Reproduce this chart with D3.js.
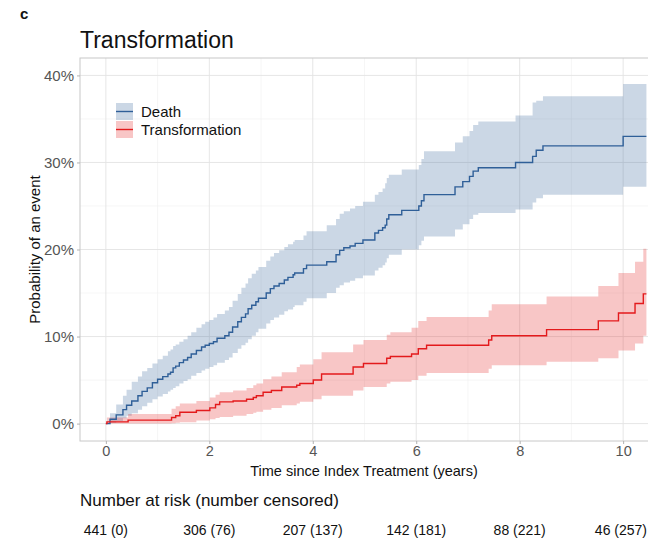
<!DOCTYPE html>
<html>
<head>
<meta charset="utf-8">
<script src="https://cdn.jsdelivr.net/npm/d3@7"></script>
<style>
  html, body { margin: 0; padding: 0; background: #ffffff; }
  svg { display: block; font-family: "Liberation Sans", Arial, Helvetica, sans-serif; }
</style>
</head>
<body>
<svg id="chart" width="648" height="541"></svg>
<script>
// Cumulative incidence (%) with 95% CI, step times in years
const deathTime = [0, 0.08, 0.2, 0.33, 0.4, 0.5, 0.62, 0.7, 0.8, 0.9, 1.0, 1.1, 1.2, 1.25, 1.3, 1.35, 1.42, 1.5, 1.58, 1.65, 1.75, 1.85, 1.92, 2.0, 2.08, 2.15, 2.3, 2.38, 2.45, 2.55, 2.62, 2.7, 2.75, 2.82, 2.9, 2.95, 3.1, 3.18, 3.25, 3.35, 3.45, 3.52, 3.62, 3.65, 3.82, 3.88, 4.27, 4.45, 4.52, 4.6, 4.72, 4.82, 4.97, 5.2, 5.27, 5.35, 5.4, 5.43, 5.47, 5.72, 6.05, 6.1, 6.15, 6.75, 6.9, 7.03, 7.1, 7.2, 7.92, 8.25, 8.32, 8.45, 10.0, 10.45];
const deathEst  = [0, 0.5, 1.0, 1.6, 2.1, 2.6, 3.2, 3.7, 4.1, 4.7, 5.1, 5.4, 5.7, 5.9, 6.4, 6.6, 7.0, 7.3, 7.6, 8.0, 8.4, 8.8, 9.0, 9.2, 9.4, 9.8, 10.1, 10.5, 11.1, 11.7, 12.2, 12.6, 13.2, 13.6, 14.0, 14.4, 15.0, 15.5, 15.8, 16.1, 16.5, 16.8, 17.1, 17.3, 17.8, 18.2, 18.6, 19.4, 19.9, 20.2, 20.4, 20.7, 21.1, 21.9, 22.2, 22.5, 22.8, 23.5, 24.0, 24.5, 25.0, 25.6, 26.3, 27.2, 27.8, 28.4, 29.0, 29.4, 30.0, 30.7, 31.4, 31.9, 33.0, 33.0];
const deathLow  = [0, 0.1, 0.3, 0.6, 0.9, 1.2, 1.6, 2.0, 2.4, 2.8, 3.1, 3.4, 3.7, 3.9, 4.1, 4.3, 4.6, 4.9, 5.1, 5.5, 5.8, 6.1, 6.3, 6.5, 6.7, 7.0, 7.3, 7.6, 8.1, 8.6, 9.0, 9.3, 9.7, 10.1, 10.5, 10.9, 11.5, 11.9, 12.2, 12.5, 12.9, 13.1, 13.4, 13.6, 14.0, 14.4, 15.0, 15.6, 15.9, 16.2, 16.4, 16.7, 17.0, 17.6, 17.9, 18.2, 18.5, 19.0, 19.4, 20.0, 20.5, 21.0, 21.5, 22.3, 22.9, 23.5, 24.0, 24.2, 24.6, 25.4, 25.9, 26.3, 27.2, 27.2];
const deathHigh = [0, 1.2, 2.2, 3.2, 3.9, 4.8, 5.4, 6.0, 6.4, 6.9, 7.4, 7.8, 8.3, 8.5, 8.9, 9.1, 9.4, 9.7, 10.1, 10.5, 11.0, 11.4, 11.7, 11.9, 12.2, 12.6, 13.0, 13.4, 14.1, 14.9, 15.6, 16.1, 16.7, 17.2, 17.6, 18.0, 18.7, 19.2, 19.6, 19.9, 20.3, 20.6, 20.9, 21.1, 21.6, 22.1, 22.8, 23.5, 24.1, 24.4, 24.7, 25.0, 25.5, 26.3, 26.6, 27.0, 27.6, 28.2, 28.6, 29.2, 29.7, 30.4, 31.3, 32.3, 33.0, 33.6, 34.3, 34.7, 35.4, 36.9, 37.1, 37.6, 39.0, 39.0];

const transTime = [0, 0.02, 0.43, 1.27, 1.35, 1.43, 1.75, 2.01, 2.12, 2.2, 2.46, 2.72, 2.85, 2.91, 3.04, 3.2, 3.4, 3.69, 3.75, 4.01, 4.17, 4.78, 4.98, 5.43, 5.5, 5.91, 6.04, 6.2, 7.4, 7.46, 8.52, 9.52, 9.91, 10.23, 10.39, 10.45];
const transEst  = [0, 0.2, 0.4, 0.7, 0.9, 1.3, 1.5, 1.8, 2.2, 2.5, 2.6, 2.8, 3.0, 3.2, 3.6, 3.8, 4.2, 4.4, 4.6, 5.0, 5.7, 6.5, 6.9, 7.5, 7.7, 8.0, 8.6, 9.0, 9.6, 10.1, 10.8, 11.8, 12.7, 13.8, 14.9, 14.9];
const transLow  = [0, 0.0, 0.0, 0.05, 0.1, 0.15, 0.35, 0.5, 0.65, 0.75, 0.9, 1.1, 1.25, 1.35, 1.6, 1.8, 2.1, 2.3, 2.5, 2.8, 3.2, 3.8, 4.2, 4.6, 4.8, 5.0, 5.5, 5.8, 6.3, 6.7, 7.1, 7.5, 8.4, 9.2, 10.1, 10.1];
const transHigh = [0, 0.7, 1.1, 1.7, 2.0, 2.3, 2.6, 3.0, 3.3, 3.6, 3.8, 4.1, 4.4, 4.6, 5.1, 5.4, 5.9, 6.5, 6.8, 7.4, 8.2, 9.1, 9.6, 10.2, 10.5, 11.0, 11.8, 12.25, 13.0, 13.7, 14.6, 15.8, 17.3, 18.6, 20.1, 20.1];

const seriesNames  = ["Death", "Transformation"];
const seriesColors = ["#2f5f98", "#e31a1c"];

const xTicks = [0, 2, 4, 6, 8, 10];
const yTicks = [0, 10, 20, 30, 40];
const riskTimes  = [0, 2, 4, 6, 8, 10];
const riskLabels = ["441 (0)", "306 (76)", "207 (137)", "142 (181)", "88 (221)", "46 (257)"];

const svg = d3.select("#chart");
const W = 648;
const panel = { left: 80, top: 58, right: 649, bottom: 441 };

const x = d3.scaleLinear().domain([-0.5, 10.5]).range([panel.left, panel.right]);
const y = d3.scaleLinear().domain([-2, 42]).range([panel.bottom, panel.top]);

svg.append("defs").append("clipPath").attr("id", "panelClip")
  .append("rect").attr("x", panel.left).attr("y", panel.top)
  .attr("width", panel.right - panel.left).attr("height", panel.bottom - panel.top);

// grid
const grid = svg.append("g");
const minorX = [1, 3, 5, 7, 9];
const minorY = [5, 15, 25, 35];
grid.selectAll(".mx").data(minorX).enter().append("line")
  .attr("x1", d => x(d)).attr("x2", d => x(d)).attr("y1", panel.top).attr("y2", panel.bottom)
  .attr("stroke", "#f0f0f0").attr("stroke-width", 0.6);
grid.selectAll(".my").data(minorY).enter().append("line")
  .attr("x1", panel.left).attr("x2", panel.right).attr("y1", d => y(d)).attr("y2", d => y(d))
  .attr("stroke", "#f0f0f0").attr("stroke-width", 0.6);
grid.selectAll(".gx").data(xTicks).enter().append("line")
  .attr("x1", d => x(d)).attr("x2", d => x(d)).attr("y1", panel.top).attr("y2", panel.bottom)
  .attr("stroke", "#e3e3e3").attr("stroke-width", 0.9);
grid.selectAll(".gy").data(yTicks).enter().append("line")
  .attr("x1", panel.left).attr("x2", panel.right).attr("y1", d => y(d)).attr("y2", d => y(d))
  .attr("stroke", "#e3e3e3").attr("stroke-width", 0.9);

// curves
const plot = svg.append("g").attr("clip-path", "url(#panelClip)");
const series = [
  { t: deathTime, est: deathEst, lo: deathLow, hi: deathHigh },
  { t: transTime, est: transEst, lo: transLow, hi: transHigh }
];
const area = d3.area().curve(d3.curveStepAfter)
  .x(d => x(d.t)).y0(d => y(d.lo)).y1(d => y(d.hi));
const line = d3.line().curve(d3.curveStepAfter)
  .x(d => x(d.t)).y(d => y(d.est));

series.forEach((s, i) => {
  const pts = s.t.map((t, j) => ({ t, est: s.est[j], lo: s.lo[j], hi: s.hi[j] }));
  plot.append("path").datum(pts).attr("d", area)
    .attr("fill", seriesColors[i]).attr("fill-opacity", 0.25);
});
series.forEach((s, i) => {
  const pts = s.t.map((t, j) => ({ t, est: s.est[j] }));
  plot.append("path").datum(pts).attr("d", line)
    .attr("fill", "none").attr("stroke", seriesColors[i]).attr("stroke-width", 1.4);
});

// panel border
svg.append("rect").attr("x", panel.left).attr("y", panel.top)
  .attr("width", panel.right - panel.left).attr("height", panel.bottom - panel.top)
  .attr("fill", "none").attr("stroke", "#c8c8c8").attr("stroke-width", 1);

// axes
const xAxis = d3.axisBottom(x).tickValues(xTicks).tickSize(3).tickPadding(2).tickFormat(d3.format("d"));
const gx = svg.append("g").attr("transform", `translate(0,${panel.bottom})`).call(xAxis);
gx.select(".domain").remove();
gx.selectAll(".tick line").attr("stroke", "#b3b3b3");
gx.selectAll(".tick text").attr("fill", "#555").style("font-size", "14.5px")
  .style("font-family", "'Liberation Sans', Arial, sans-serif");

const yAxis = d3.axisLeft(y).tickValues(yTicks).tickSize(3).tickPadding(3).tickFormat(d => d + "%");
const gy = svg.append("g").attr("transform", `translate(${panel.left},0)`).call(yAxis);
gy.select(".domain").remove();
gy.selectAll(".tick line").attr("stroke", "#b3b3b3");
gy.selectAll(".tick text").attr("fill", "#555").style("font-size", "15px")
  .style("font-family", "'Liberation Sans', Arial, sans-serif");

// titles
svg.append("text").attr("x", 20).attr("y", 19).text("c")
  .style("font-size", "15px").style("font-weight", "bold").attr("fill", "#111");
svg.append("text").attr("x", 80).attr("y", 48).text("Transformation")
  .style("font-size", "23px").attr("fill", "#111");
svg.append("text")
  .attr("transform", `translate(40,${(panel.top + panel.bottom) / 2}) rotate(-90)`)
  .attr("text-anchor", "middle").text("Probability of an event")
  .style("font-size", "15px").attr("fill", "#111");
svg.append("text").attr("x", (panel.left + W) / 2).attr("y", 476)
  .attr("text-anchor", "middle").text("Time since Index Treatment (years)")
  .style("font-size", "14.5px").attr("fill", "#111");

// legend
const legend = svg.append("g");
seriesNames.forEach((name, i) => {
  const ly = 103 + i * 18;
  legend.append("rect").attr("x", 116).attr("y", ly).attr("width", 17).attr("height", 17)
    .attr("fill", seriesColors[i]).attr("fill-opacity", 0.25);
  legend.append("line").attr("x1", 116).attr("x2", 133).attr("y1", ly + 8.5).attr("y2", ly + 8.5)
    .attr("stroke", seriesColors[i]).attr("stroke-width", 1.4);
  legend.append("text").attr("x", 141).attr("y", ly + 14).text(name)
    .style("font-size", "15px").attr("fill", "#111");
});

// number at risk table
svg.append("text").attr("x", 80).attr("y", 506).text("Number at risk (number censored)")
  .style("font-size", "17px").attr("fill", "#111");
const riskG = svg.append("g");
riskTimes.forEach((t, i) => {
  const txt = riskG.append("text").attr("y", 535).attr("text-anchor", "middle")
    .text(riskLabels[i]).style("font-size", "14px").attr("fill", "#111");
  const w = txt.node().getComputedTextLength();
  const cx = Math.min(x(t), W - 1 - w / 2);
  txt.attr("x", cx);
});
</script>
</body>
</html>
